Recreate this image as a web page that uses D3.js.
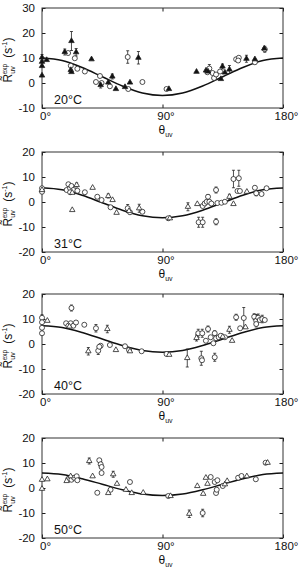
<!DOCTYPE html>
<html lang="en">
<head>
<meta charset="UTF-8">
<title>R uv exp vs theta uv</title>
<style>
  body { margin: 0; background: #fff; }
  svg text { font-family: "Liberation Sans", Arial, sans-serif; fill: #111; }
</style>
</head>
<body>
<svg id="vis" width="303" height="575"></svg>
<script src="https://d3js.org/d3.v7.min.js"></script>
<script>
// Data: [theta (deg), R (s^-1), marker, half error bar]
// marker: 'c' open circle, 't' open triangle, 'f' filled triangle
const temps = ['20°C', '31°C', '40°C', '50°C']
const yDomains = [[-10, 30], [-20, 20], [-20, 20], [-20, 20]]
const yTicks = [[-10, 0, 10, 20, 30], [-20, -10, 0, 10, 20], [-20, -10, 0, 10, 20], [-20, -10, 0, 10, 20]]
const xTicks = [0, 90, 180]

// fitted curve every 15 degrees
const fitAngles = [0, 15, 30, 45, 60, 75, 90, 105, 120, 135, 150, 165, 180]
const fit20 = [10, 9.0, 6.2, 2.5, -1.2, -4.0, -5.0, -4.0, -1.2, 2.5, 6.2, 9.0, 10]
const fit31 = [5.7, 4.9, 2.7, -0.3, -3.3, -5.5, -6.3, -5.5, -3.3, -0.3, 2.7, 4.9, 5.6]
const fit40 = [7.3, 6.6, 4.6, 2.0, -0.6, -2.6, -3.3, -2.6, -0.6, 2.0, 4.6, 6.6, 7.3]
const fit50 = [6.0, 5.4, 3.7, 1.5, -0.7, -2.4, -3.0, -2.4, -0.7, 1.5, 3.7, 5.4, 6.0]

const pts20 = [
  [0, 10.2, 'f', 1.2], [0, 8.5, 'f', 0], [0, 6.8, 'f', 0], [0, 3.0, 'f', 0], [3.5, 9.2, 'f', 0],
  [17, 12.4, 'f', 1.2], [19.5, 12.0, 'c', 0], [22, 16.8, 'f', 3.8], [25.5, 12.3, 'f', 1.5],
  [24.5, 9.9, 'c', 0], [21.5, 6.9, 'c', 0], [21.5, 5.2, 'f', 0], [22, 4.4, 'f', 0],
  [26.4, 5.7, 'c', 0], [32, 4.6, 'c', 0], [37, 9.5, 'f', 0], [43.3, 2.8, 'c', 0],
  [40.3, 0.4, 'c', 0], [43.8, -0.8, 'f', 1.2], [44.5, 0, 'c', 0], [49.5, 0.2, 'f', 0],
  [50.7, -1.3, 'c', 0], [52.5, 2.6, 'f', 1.0], [55.2, -2.4, 'f', 0], [62, -1.6, 'f', 0],
  [64.4, -2.4, 'c', 0], [65.7, 0.2, 'f', 0], [64, 10.4, 'c', 2.5], [72, 10.1, 'f', 2.5],
  [75, 0.4, 'c', 0], [93, -2.4, 'c', 0], [94.8, -2.4, 'f', 0], [115.4, 4.5, 'f', 0],
  [122.5, 5.0, 'f', 0], [124, 4.6, 'f', 0], [123.5, 4.3, 'c', 0], [125, 5.8, 'c', 1.6],
  [127.4, 4.0, 'c', 0], [128.5, 2.0, 'c', 0], [130, 3.4, 'c', 0], [133, 4.6, 'c', 0],
  [134.8, 6.6, 'f', 1.0], [133.6, 1.6, 'f', 0], [136.6, 4.2, 'f', 0], [140, 5.4, 'f', 1.6],
  [145, 9.5, 'c', 0], [147, 10.1, 'c', 0], [146.5, 9.0, 'c', 0], [152.7, 9.7, 'f', 1.4],
  [159, 9.5, 'f', 0], [159, 8.3, 'c', 0], [166.4, 13.5, 'c', 1.2], [166, 13.8, 'f', 0]
]
const pts31 = [
  [0, 5.5, 'c', 0], [0, 4.1, 'c', 0], [0, 4.8, 't', 0],
  [18.4, 4.8, 'c', 0], [19.7, 7.1, 'c', 0], [21, 5.5, 'c', 0], [22, 6.4, 'c', 0], [23.4, 4.8, 'c', 0],
  [25.9, 6.8, 't', 0.8], [26.4, 4.5, 'c', 0], [22.6, 3.7, 't', 0], [21, 3.9, 'c', 0], [22.6, -3.2, 't', 0],
  [32, 3.9, 'c', 0], [37.8, 5.7, 't', 0], [41.3, 2.1, 'c', 0], [44.5, 0.8, 'c', 0], [49.5, 2.4, 't', 0.8],
  [52.7, 0.8, 't', 0], [51.2, -2.1, 'c', 0], [55.7, -4.3, 't', 0], [64, -2.5, 'c', 1.5],
  [65.7, -4.1, 'c', 0], [65, -3.6, 't', 0], [72.6, -2.5, 't', 1.6], [75, -3.9, 'c', 0],
  [94.3, -6.5, 'c', 0], [95.5, -6.5, 't', 0], [109, -1.9, 't', 1.6], [116, -0.8, 't', 0],
  [117, -8.1, 'c', 2], [120, -8.1, 'c', 2], [120, -1.6, 'c', 0], [121.5, -0.6, 'c', 0],
  [123, 0.1, 'c', 0], [124, 2.1, 'c', 0.8], [125, 0.1, 'c', 0], [126.5, -0.6, 'c', 0],
  [130, 4.8, 'c', 1.2], [130, -7.9, 'c', 1.2], [131, -0.4, 'c', 0], [134, -0.3, 'c', 0],
  [136.6, 0.1, 'c', 0], [140, 2.1, 't', 1.0], [143, -0.8, 't', 0], [143, 9.2, 'c', 3.5],
  [147, 9.5, 'c', 3.2], [146, 4.4, 'c', 0], [147.8, 4.4, 'c', 0], [153, 4.1, 't', 0],
  [159, 5.7, 'c', 0], [160, 3.5, 'c', 1.0], [164, 3.2, 'c', 0], [167.7, 5.5, 'c', 0]
]
const pts40 = [
  [0, 10.5, 'c', 1.2], [0, 8.7, 'c', 0], [0, 6.5, 'c', 0], [0, 4.3, 'c', 0], [4, 9.3, 't', 0],
  [22, 14.4, 'c', 1.2], [18, 8.3, 'c', 0], [19.7, 7.3, 'c', 0], [21.4, 8.3, 'c', 0], [23.4, 7.3, 'c', 0],
  [25.4, 8.6, 'c', 0], [20.5, 7.0, 't', 0], [31.6, 7.7, 'c', 0], [40.3, 6.3, 'c', 1.5], [48.8, 6.0, 't', 1.5],
  [34.6, -2.9, 't', 1.5], [42, -2.7, 'c', 1.5], [43.8, -0.7, 'c', 0], [42.8, -1.1, 'c', 0],
  [50.7, -0.4, 'c', 0], [55.2, -2.4, 't', 0], [62, -0.9, 'c', 0], [65, -2.4, 'c', 0], [65.7, -2.9, 't', 0],
  [74.4, -2.9, 'c', 0], [93, -4.0, 'c', 0], [95, -4.3, 't', 0], [108.5, -5.6, 't', 3.6],
  [115.4, 2.4, 't', 1.2], [116.7, 4.3, 'c', 1.6], [119.7, 4.3, 'c', 1.6], [119, -5.7, 'c', 2.8],
  [119.5, -6.5, 'c', 0], [122.4, 1.3, 'c', 0], [124, 6.0, 'c', 1.2], [126, 2.7, 'c', 0],
  [129, 4.3, 'c', 1.0], [130, 2.3, 'c', 0], [129, -5.3, 'c', 1.6], [128, 0.3, 'c', 0],
  [132, 2.7, 'c', 0], [133.5, 3.3, 'c', 0], [135, 2.9, 't', 0], [136.6, 2.7, 'c', 0],
  [140, 5.7, 't', 1.4], [142, 1.3, 't', 0], [145, 10.7, 'c', 1.2], [148, 6.3, 'c', 0],
  [150.7, 10.4, 'c', 4.2], [152, 6.7, 't', 0], [158.5, 10.9, 'c', 1.2], [160, 9.3, 'c', 2.5],
  [161.5, 10.5, 'c', 1.5], [162.7, 9.6, 'c', 0], [164.5, 10.0, 'c', 1.5], [166.4, 9.6, 'c', 0], [160, 8.0, 'c', 0]
]
const pts50 = [
  [0, 3.3, 't', 0], [4, 3.5, 't', 0], [0, -0.3, 't', 0],
  [18.4, 2.8, 't', 0], [19.7, 3.7, 'c', 0], [21.4, 4.7, 't', 0], [22, 3.3, 'c', 0], [23.9, 4.1, 'c', 0],
  [25.9, 4.7, 'c', 0], [26.4, 3.1, 'c', 0], [35.3, 10.8, 't', 1.2], [42.8, 11.1, 'c', 0],
  [43.8, 9.5, 'c', 1.2], [44.5, 8.4, 'c', 0], [44.5, 6.0, 'c', 0], [37.8, 4.7, 't', 0],
  [41.3, -1.9, 'c', 0], [49.5, -2.0, 't', 0], [51.2, -0.7, 'c', 0], [53.2, 5.5, 't', 1.2],
  [56, 1.7, 't', 0], [62.7, -0.7, 't', 0], [65.7, 2.4, 'c', 0], [67, -2.0, 't', 0], [75.6, -1.9, 't', 0],
  [94.3, -3.2, 'c', 0], [96, -3.2, 't', 0], [110, -10.3, 't', 1.5], [120, -10.0, 'c', 1.5],
  [116, 0.8, 't', 0], [120.4, -2.3, 't', 0], [122.4, 4.1, 't', 0], [126, 4.4, 'c', 0], [123.6, 1.7, 't', 0],
  [129, 2.4, 'c', 0], [131, 3.1, 'c', 0], [130, -2.0, 'c', 0], [130.5, -0.7, 'c', 0], [135, 0.8, 'c', 0],
  [136.6, 1.5, 't', 0], [138.3, 2.8, 't', 0], [146.5, 4.1, 'c', 0], [149, 4.8, 'c', 0],
  [153, 4.7, 't', 0], [159.7, 3.5, 'c', 0], [167, 10.1, 'c', 0], [168.5, 10.1, 't', 0]
]

const allPts = [pts20, pts31, pts40, pts50]
const allFits = [fit20, fit31, fit40, fit50]

// Layout
const left = 42
const right = 283
const panelH = 100
const panelTops = [8, 152, 294, 438]
const tickLen = 3.5
const ink = '#1a1a1a'

const svg = d3.select('#vis')
svg.append('rect').attr('width', 303).attr('height', 575).attr('fill', '#fff')

const x = d3.scaleLinear().domain([0, 180]).range([left, right])
const tri = d3.symbol().type(d3.symbolTriangle).size(13)

temps.forEach((label, i) => {
  const top = panelTops[i]
  const bottom = top + panelH
  const y = d3.scaleLinear().domain(yDomains[i]).range([bottom, top])
  const g = svg.append('g')

  // axes with inward ticks
  const styleAxis = sel => {
    sel.select('.domain').remove()
    sel.selectAll('line').attr('stroke', ink)
    sel.selectAll('text').attr('fill', ink).style('font-family', '"Liberation Sans", Arial, sans-serif')
  }
  g.append('g').attr('transform', `translate(${left},0)`)
    .call(d3.axisLeft(y).tickValues(yTicks[i]).tickSizeInner(-tickLen).tickSizeOuter(0).tickPadding(7).tickFormat(d => String(d)))
    .call(styleAxis)
    .selectAll('text').style('font-size', '11.5px')
  g.append('g').attr('transform', `translate(${right},0)`)
    .call(d3.axisRight(y).tickValues(yTicks[i]).tickSizeInner(-tickLen).tickSizeOuter(0).tickFormat(''))
    .call(styleAxis)
  g.append('g').attr('transform', `translate(0,${bottom})`)
    .call(d3.axisBottom(x).tickValues(xTicks).tickSizeInner(-tickLen).tickSizeOuter(0).tickPadding(4).tickFormat(d => d + '°'))
    .call(styleAxis)
    .selectAll('text').style('font-size', '11.5px').attr('dx', 3)
  g.append('g').attr('transform', `translate(0,${top})`)
    .call(d3.axisTop(x).tickValues(xTicks).tickSizeInner(-tickLen).tickSizeOuter(0).tickFormat(''))
    .call(styleAxis)

  // frame
  g.append('rect')
    .attr('x', left).attr('y', top)
    .attr('width', right - left).attr('height', panelH)
    .attr('fill', 'none').attr('stroke', '#333').attr('stroke-width', 1)

  // fitted curve
  const line = d3.line()
    .x((d, j) => x(fitAngles[j]))
    .y(d => y(d))
    .curve(d3.curveMonotoneX)
  g.append('path')
    .datum(allFits[i])
    .attr('d', line)
    .attr('fill', 'none')
    .attr('stroke', '#111')
    .attr('stroke-width', 1.5)

  // error bars
  const bars = g.append('g').attr('stroke', '#222').attr('stroke-width', 0.8)
  allPts[i].filter(d => d[3] > 0).forEach(d => {
    const cx = x(d[0])
    bars.append('line').attr('x1', cx).attr('x2', cx).attr('y1', y(d[1] - d[3])).attr('y2', y(d[1] + d[3]))
    bars.append('line').attr('x1', cx - 1.5).attr('x2', cx + 1.5).attr('y1', y(d[1] + d[3])).attr('y2', y(d[1] + d[3]))
    bars.append('line').attr('x1', cx - 1.5).attr('x2', cx + 1.5).attr('y1', y(d[1] - d[3])).attr('y2', y(d[1] - d[3]))
  })

  // markers
  const pts = g.append('g')
  pts.selectAll('circle')
    .data(allPts[i].filter(d => d[2] === 'c'))
    .join('circle')
    .attr('cx', d => x(d[0]))
    .attr('cy', d => y(d[1]))
    .attr('r', 2.5)
    .attr('fill', '#fff')
    .attr('stroke', '#222')
    .attr('stroke-width', 0.8)
  pts.selectAll('path')
    .data(allPts[i].filter(d => d[2] !== 'c'))
    .join('path')
    .attr('d', tri)
    .attr('transform', d => `translate(${x(d[0])},${y(d[1])})`)
    .attr('fill', d => d[2] === 'f' ? '#111' : '#fff')
    .attr('stroke', '#222')
    .attr('stroke-width', 0.8)

  // temperature label
  g.append('text')
    .attr('x', left + 12).attr('y', bottom - 4)
    .style('font-size', '12.5px')
    .text(label)

  // x axis title
  const xt = g.append('text')
    .attr('x', x(90) - 4).attr('y', bottom + 26)
    .style('font-size', '12px')
  xt.append('tspan').text('θ')
  xt.append('tspan').attr('dy', 3).style('font-size', '7px').text('uv')

  // y axis title
  const yt = g.append('text')
    .attr('transform', `translate(12,${top + panelH / 2 + 2}) rotate(-90)`)
    .attr('text-anchor', 'middle')
    .style('font-size', '12px')
  yt.append('tspan').text('R\u0303')
  yt.append('tspan').attr('dy', 3).style('font-size', '7px').text('uv')
  yt.append('tspan').attr('dx', -8).attr('dy', -8).style('font-size', '6.5px').text('exp')
  yt.append('tspan').attr('dy', 5).text('\u2002(s')
  yt.append('tspan').attr('dy', -5).style('font-size', '7px').text('-1')
  yt.append('tspan').attr('dy', 5).text(')')
})
</script>
</body>
</html>
